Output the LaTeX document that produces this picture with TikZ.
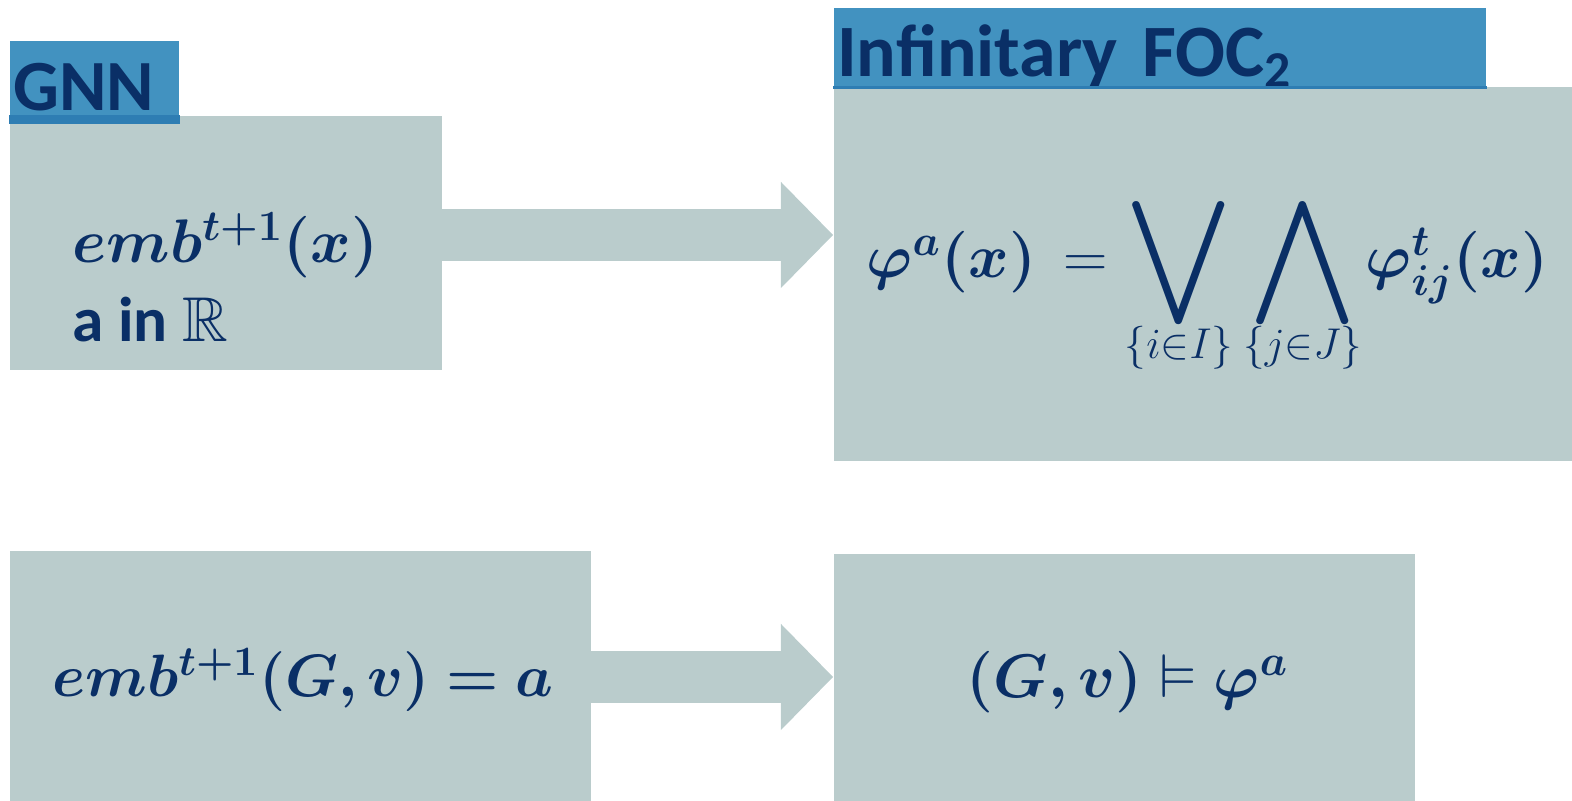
\RequirePackage{fix-cm}
\documentclass[tikz,border=0pt]{standalone}
\usepackage{amsmath,amssymb,bm}
\usepackage[no-math]{fontspec}
\newfontfamily\carlito{Carlito}
\usetikzlibrary{arrows.meta,calc}
\definecolor{slatepanel}{HTML}{BACCCC}
\definecolor{skyheader}{HTML}{4292C0}
\definecolor{skyline}{HTML}{2E7DB3}
\definecolor{navytext}{HTML}{0A2F66}
\newcommand{\bigOr}[1]{\mathop{\vcenter{\hbox{\scalebox{1.5}[1.43]{$\displaystyle\bigvee$}}}}\limits_{\raisebox{0.11cm}[0pt][0pt]{$\scriptstyle #1$}}}
\newcommand{\bigAnd}[1]{\mathop{\vcenter{\hbox{\scalebox{1.5}[1.43]{$\displaystyle\bigwedge$}}}}\limits_{\raisebox{0.11cm}[0pt][0pt]{$\scriptstyle #1$}}}
\tikzset{
  panel/.style={
    fill=slatepanel,
    inner sep=0pt,
    anchor=north west
  },
  panelHead/.style={
    fill=skyheader,
    text=navytext,
    inner xsep=1pt,
    inner ysep=0pt,
    anchor=north west,
    align=left,
    font=\carlito\bfseries\fontsize{20.5}{24}\selectfont
  },
  flowArrow/.style={
    draw=slatepanel,
    line width=0.52cm,
    -{Triangle[length=0.52cm, width=1.06cm, line width=0pt]}
  }
}

\begin{document}
\begin{tikzpicture}[
  x=0.01cm, y=-0.01cm,
  panelMath/.style={
    text=navytext,
    inner sep=0pt,
    anchor=base west,
    font=\fontsize{17.5}{21}\selectfont
  },
  panelText/.style={
    text=navytext,
    inner sep=0pt,
    anchor=base west,
    font=\carlito\bfseries\fontsize{18}{22}\selectfont
  }
]
  \useasboundingbox (0,0) rectangle (1572,801);

  \node[panel, minimum width=4.32cm, minimum height=2.54cm] (gnn) at (9,115) {};
  \node[panel, minimum width=7.39cm, minimum height=3.74cm] (foc) at (833,86) {};
  \node[panel, minimum width=5.81cm, minimum height=2.51cm] (emb) at (9,550) {};
  \node[panel, minimum width=5.81cm, minimum height=2.48cm] (sat) at (833,553) {};

  \node[panelHead, text width=1.62cm, text height=0.70cm, text depth=0.13cm] (gnnHead) at (9,40) {GNN};
  \node[panelHead, font=\carlito\bfseries\fontsize{21}{25}\selectfont, text width=6.45cm, text height=0.69cm, text depth=0.12cm] (focHead) at (833,7) {Infinitary FOC\textsubscript{2}};
  \fill[skyline] (gnnHead.south west) rectangle (gnnHead.east |- gnn.north);
  \fill[skyline] (focHead.south west) rectangle (focHead.east |- foc.north);

  \coordinate (topLane) at (0,235);
  \coordinate (lowLane) at (0,677);
  \draw[flowArrow] ([xshift=-1pt]gnn.east |- topLane) -- (foc.west |- topLane);
  \draw[flowArrow] ([xshift=-1pt]emb.east |- lowLane) -- (sat.west |- lowLane);

  \node[panelMath] (gnnEmb) at (72,263) {$\bm{emb^{t+1}(x)}$};
  \node[panelText] (gnnReal) at (72,342) {a in $\mathbb{R}$};
  \node[panelMath] (focFormula) at (866,278) {$\bm{\varphi^{a}(x)} \mkern3mu = \bigOr{\{i\in I\}} \bigAnd{\{j\in J\}} \mkern-2mu \bm{\varphi^{t}_{ij}(x)}$};
  \node[panelMath, font=\fontsize{17}{20}\selectfont] (embFormula) at (52,697) {$\bm{emb^{t+1}(G,v) = a}$};
  \node[panelMath] (satFormula) at (966,698) {$\bm{(G,v)} \vDash \bm{\varphi^{a}}$};
\end{tikzpicture}
\end{document}
